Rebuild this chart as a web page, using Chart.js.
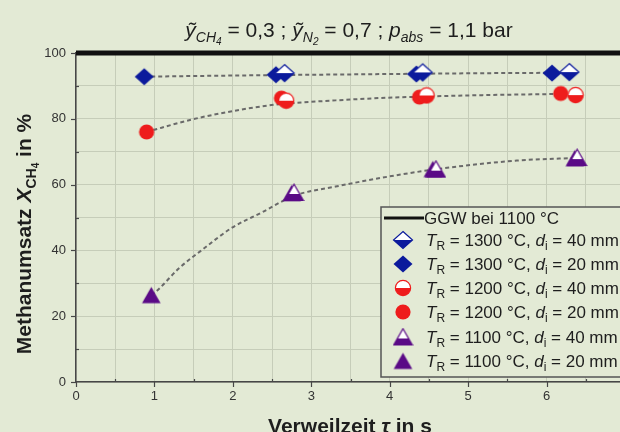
<!DOCTYPE html>
<html>
<head>
<meta charset="utf-8">
<script src="https://cdn.jsdelivr.net/npm/chart.js@4"></script>
<style>
  html, body { margin: 0; padding: 0; overflow: hidden; background: #e3ead5; width: 620px; height: 432px; }
  canvas { display: block; }
</style>
</head>
<body>
<canvas id="c" width="660" height="432"></canvas>
<script>
// Equilibrium conversion at 1100 °C
const ggwTau = [0, 7];
const ggwConv = [100, 100];

// Measured methane conversion (%) over residence time (s)
const tau1300d40 = [2.66, 4.42, 6.29];
const conv1300d40 = [93.9, 94.1, 94.2];
const tau1300d20 = [0.87, 2.55, 4.34, 6.07];
const conv1300d20 = [92.8, 93.4, 93.6, 93.9];
const tau1200d40 = [2.68, 4.47, 6.37];
const conv1200d40 = [85.5, 87.1, 87.2];
const tau1200d20 = [0.90, 2.62, 4.38, 6.18];
const conv1200d20 = [76.0, 86.3, 86.6, 87.7];
const tau1100d40 = [2.78, 4.59, 6.39];
const conv1100d40 = [57.6, 64.7, 68.2];
const tau1100d20 = [0.96, 2.75, 4.55, 6.36];
const conv1100d20 = [26.4, 57.4, 64.7, 68.0];

// Trend curves (dashed)
const fitTau1300 = [0.87, 1.5, 2.6, 3.5, 4.4, 5.4, 6.3];
const fitConv1300 = [92.8, 93.0, 93.3, 93.5, 93.7, 93.9, 94.0];
const fitTau1200 = [0.90, 1.48, 1.99, 2.54, 3.31, 3.87, 4.5, 5.2, 6.0, 6.3];
const fitConv1200 = [76.0, 79.8, 82.3, 84.3, 85.6, 86.3, 86.8, 87.2, 87.5, 87.6];
const fitTau1100 = [0.96, 1.04, 1.31, 1.61, 1.99, 2.375, 2.78, 3.31, 4.0, 4.57, 5.62, 6.35];
const fitConv1100 = [26.4, 27.9, 34.5, 40.2, 46.9, 51.6, 56.6, 59.4, 62.5, 64.6, 67.3, 68.1];

// Legend rows
const legendTemps = [1300, 1300, 1200, 1200, 1100, 1100];
const legendDiams = [40, 20, 40, 20, 40, 20];
const ggwLabel = 'GGW bei 1100 °C';

// Axis ticks
const xTickLabels = ['0', '1', '2', '3', '4', '5', '6'];
const yTickLabels = ['0', '20', '40', '60', '80', '100'];

const FONT = '"Liberation Sans", Arial, Helvetica, sans-serif';
const BG = '#e3ead5';
const GRID = '#c6cdb9';
const AXIS = '#474747';
const BLUE = '#0b1a9c';
const RED = '#ee1c1c';
const PURPLE = '#5a0a86';

function pts(xs, ys) { return xs.map((x, i) => ({ x: x, y: ys[i] })); }

// Marker images: filled or lower-half filled
function makeMarker(shape, color, half) {
  const c = document.createElement('canvas');
  let w, h;
  if (shape === 'diamond') { w = 22; h = 20; }
  else if (shape === 'circle') { w = 18; h = 18; }
  else { w = 21; h = 19; }
  c.width = w; c.height = h;
  const g = c.getContext('2d');
  const path = () => {
    g.beginPath();
    if (shape === 'diamond') {
      g.moveTo(11, 1.5); g.lineTo(20.5, 10); g.lineTo(11, 18.5); g.lineTo(1.5, 10); g.closePath();
    } else if (shape === 'circle') {
      g.arc(9, 9, 7.6, 0, Math.PI * 2);
    } else {
      g.moveTo(10.5, 1.2); g.lineTo(19.8, 17.5); g.lineTo(1.2, 17.5); g.closePath();
    }
  };
  if (half) {
    path(); g.fillStyle = '#ffffff'; g.fill();
    g.save(); path(); g.clip();
    g.fillStyle = color;
    const cut = shape === 'triangle' ? 11 : h / 2;
    g.fillRect(0, cut, w, h - cut);
    g.restore();
    path(); g.strokeStyle = color; g.lineWidth = 1.2; g.stroke();
  } else {
    path(); g.fillStyle = color; g.fill();
  }
  return c;
}

const mk1300d40 = makeMarker('diamond', BLUE, true);
const mk1300d20 = makeMarker('diamond', BLUE, false);
const mk1200d40 = makeMarker('circle', RED, true);
const mk1200d20 = makeMarker('circle', RED, false);
const mk1100d40 = makeMarker('triangle', PURPLE, true);
const mk1100d20 = makeMarker('triangle', PURPLE, false);
const legendMarkers = [mk1300d40, mk1300d20, mk1200d40, mk1200d20, mk1100d40, mk1100d20];

function markerSet(data, img) {
  return { data: data, pointStyle: img, pointRadius: 8, showLine: false, borderWidth: 0 };
}
function curveSet(data) {
  return {
    data: data, showLine: true, pointRadius: 0, borderColor: '#6a6a6a', borderWidth: 2,
    borderDash: [4, 3], cubicInterpolationMode: 'monotone', fill: false
  };
}

// Draws a run of differently styled text pieces side by side.
// A piece with "accent" is centred over the previous piece without advancing.
function drawRuns(ctx, runs, x, y, align) {
  let total = 0;
  runs.forEach(r => {
    ctx.font = r.font; r.w = ctx.measureText(r.text).width;
    if (!r.accent) total += r.w;
  });
  let cx = align === 'center' ? x - total / 2 : x;
  let prevX = cx, prevW = 0;
  ctx.textAlign = 'left';
  ctx.textBaseline = 'alphabetic';
  runs.forEach(r => {
    ctx.font = r.font;
    if (r.accent) {
      ctx.fillText(r.text, prevX + prevW / 2 - r.w / 2 + (r.dx || 0), y + (r.dy || 0));
      return;
    }
    ctx.fillText(r.text, cx, y + (r.dy || 0));
    prevX = cx; prevW = r.w;
    cx += r.w;
  });
}

const bgPlugin = {
  id: 'bg',
  beforeDraw(chart) {
    const ctx = chart.ctx;
    ctx.save(); ctx.fillStyle = BG; ctx.fillRect(0, 0, chart.width, chart.height); ctx.restore();
  }
};

const tickMarks = {
  id: 'tickMarks',
  beforeDatasetsDraw(chart) {
    const ctx = chart.ctx, xs = chart.scales.x, ys = chart.scales.y, a = chart.chartArea;
    ctx.save();
    ctx.strokeStyle = AXIS; ctx.lineWidth = 1.2;
    ys.ticks.forEach(t => {
      const y = Math.round(ys.getPixelForValue(t.value)) + 0.5;
      ctx.beginPath();
      if (t.value % 20 === 0) { ctx.moveTo(a.left - 5, y); ctx.lineTo(a.left, y); }
      else { ctx.moveTo(a.left, y); ctx.lineTo(a.left + 3, y); }
      ctx.stroke();
    });
    xs.ticks.forEach(t => {
      const x = Math.round(xs.getPixelForValue(t.value)) + 0.5;
      ctx.beginPath();
      if (Number.isInteger(t.value)) { ctx.moveTo(x, a.bottom); ctx.lineTo(x, a.bottom + 5); }
      else { ctx.moveTo(x, a.bottom - 3); ctx.lineTo(x, a.bottom); }
      ctx.stroke();
    });
    ctx.restore();
  }
};

const legendBox = {
  id: 'legendBox',
  afterDatasetsDraw(chart) {
    const ctx = chart.ctx;
    ctx.save();
    const L = 381, T = 207, B = 377;
    ctx.fillStyle = BG;
    ctx.fillRect(L, T, chart.width - L, B - T);
    ctx.strokeStyle = '#555'; ctx.lineWidth = 1.5;
    ctx.strokeRect(L, T, chart.width - L + 10, B - T);
    ctx.fillStyle = '#1e1e1e';
    // equilibrium line entry
    ctx.strokeStyle = '#111'; ctx.lineWidth = 3;
    ctx.beginPath(); ctx.moveTo(384, 218); ctx.lineTo(424, 218); ctx.stroke();
    drawRuns(ctx, [{ text: ggwLabel, font: '17px ' + FONT }], 424, 224, 'left');
    const rowY = [240, 264, 288, 312, 337, 361];
    legendTemps.forEach((temp, i) => {
      const m = legendMarkers[i];
      ctx.drawImage(m, 403 - m.width / 2, rowY[i] - m.height / 2);
      drawRuns(ctx, [
        { text: 'T', font: 'italic 17px ' + FONT },
        { text: 'R', font: '12px ' + FONT, dy: 4 },
        { text: ' = ' + temp + ' °C, ', font: '17px ' + FONT },
        { text: 'd', font: 'italic 17px ' + FONT },
        { text: 'i', font: '12px ' + FONT, dy: 4 },
        { text: ' = ' + legendDiams[i] + ' mm', font: '17px ' + FONT }
      ], 426, rowY[i] + 6, 'left');
    });
    ctx.restore();
  }
};

const titles = {
  id: 'titles',
  afterDraw(chart) {
    const ctx = chart.ctx;
    ctx.save();
    ctx.fillStyle = '#1e1e1e';
    // heading
    drawRuns(ctx, [
      { text: 'y', font: 'italic 21px ' + FONT },
      { text: '\u02DC', font: 'italic 21px ' + FONT, accent: true, dx: 1 },
      { text: 'CH', font: 'italic 14px ' + FONT, dy: 5 },
      { text: '4', font: 'italic 10px ' + FONT, dy: 8 },
      { text: ' = 0,3 ; ', font: '21px ' + FONT },
      { text: 'y', font: 'italic 21px ' + FONT },
      { text: '\u02DC', font: 'italic 21px ' + FONT, accent: true, dx: 1 },
      { text: 'N', font: 'italic 14px ' + FONT, dy: 5 },
      { text: '2', font: 'italic 10px ' + FONT, dy: 8 },
      { text: ' = 0,7 ; ', font: '21px ' + FONT },
      { text: 'p', font: 'italic 21px ' + FONT },
      { text: 'abs', font: 'italic 14px ' + FONT, dy: 5 },
      { text: ' = 1,1 bar', font: '21px ' + FONT }
    ], 349, 37, 'center');
    // x axis title
    drawRuns(ctx, [
      { text: 'Verweilzeit ', font: 'bold 21px ' + FONT },
      { text: 'τ', font: 'italic bold 21px ' + FONT },
      { text: ' in s', font: 'bold 21px ' + FONT }
    ], 350, 433, 'center');
    // y axis title
    ctx.translate(31, 234);
    ctx.rotate(-Math.PI / 2);
    drawRuns(ctx, [
      { text: 'Methanumsatz ', font: 'bold 21px ' + FONT },
      { text: 'X', font: 'italic bold 21px ' + FONT },
      { text: 'CH', font: 'bold 14px ' + FONT, dy: 5 },
      { text: '4', font: 'bold 10px ' + FONT, dy: 8 },
      { text: ' in %', font: 'bold 21px ' + FONT }
    ], 0, 0, 'center');
    ctx.restore();
  }
};

new Chart(document.getElementById('c'), {
  type: 'scatter',
  data: {
    datasets: [
      markerSet(pts(tau1300d40, conv1300d40), mk1300d40),
      markerSet(pts(tau1200d40, conv1200d40), mk1200d40),
      markerSet(pts(tau1100d40, conv1100d40), mk1100d40),
      markerSet(pts(tau1300d20, conv1300d20), mk1300d20),
      markerSet(pts(tau1200d20, conv1200d20), mk1200d20),
      markerSet(pts(tau1100d20, conv1100d20), mk1100d20),
      curveSet(pts(fitTau1300, fitConv1300)),
      curveSet(pts(fitTau1200, fitConv1200)),
      curveSet(pts(fitTau1100, fitConv1100)),
      { data: pts(ggwTau, ggwConv), showLine: true, pointRadius: 0, borderColor: '#111',
        borderWidth: 5, clip: 10 }
    ]
  },
  options: {
    responsive: false,
    animation: false,
    layout: { padding: { top: 53, right: 35, bottom: 0, left: 0 } },
    plugins: { legend: { display: false }, tooltip: { enabled: false } },
    scales: {
      x: {
        type: 'linear', min: 0, max: 7,
        afterFit(s) { s.height = 50; },
        ticks: {
          stepSize: 0.5, autoSkip: false, maxRotation: 0, padding: 7, color: '#333',
          font: { family: FONT, size: 13 },
          callback: v => (Number.isInteger(v) && xTickLabels[v] !== undefined) ? xTickLabels[v] : ''
        },
        grid: { color: GRID, lineWidth: 1, drawTicks: false },
        border: { color: AXIS, width: 1.5 }
      },
      y: {
        type: 'linear', min: 0, max: 100,
        afterFit(s) { s.width = 76; },
        ticks: {
          stepSize: 10, autoSkip: false, padding: 10, color: '#333',
          font: { family: FONT, size: 13 },
          callback: v => (v % 20 === 0) ? yTickLabels[v / 20] : ''
        },
        grid: { color: GRID, lineWidth: 1, drawTicks: false },
        border: { color: AXIS, width: 1.5 }
      }
    }
  },
  plugins: [bgPlugin, tickMarks, legendBox, titles]
});
</script>
</body>
</html>
